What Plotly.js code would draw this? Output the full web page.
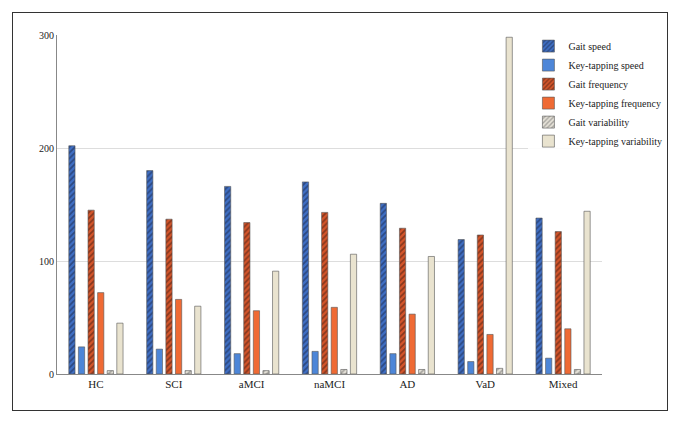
<!DOCTYPE html>
<html><head><meta charset="utf-8">
<script src="https://cdn.plot.ly/plotly-3.0.1.min.js"></script>
<style>body{margin:0;background:#fff}#chart{width:680px;height:421px}
#frame{position:absolute;left:12px;top:12px;width:654px;height:397px;border:1px solid #333;pointer-events:none}</style>
</head><body><div id="chart"></div><div id="frame"></div>
<script>
var groups = ['HC', 'SCI', 'aMCI', 'naMCI', 'AD', 'VaD', 'Mixed'];
var seriesNames = ['Gait speed', 'Key-tapping speed', 'Gait frequency', 'Key-tapping frequency', 'Gait variability', 'Key-tapping variability'];
var gaitSpeed   = [202, 180, 166, 170, 151, 119, 138];
var keySpeed    = [24, 22, 18, 20, 18, 11, 14];
var gaitFreq    = [145, 137, 134, 143, 129, 123, 126];
var keyFreq     = [72, 66, 56, 59, 53, 35, 40];
var gaitVar     = [3, 3, 3, 4, 4, 5, 4];
var keyVar      = [45, 60, 91, 106, 104, 298, 144];

var values = [gaitSpeed, keySpeed, gaitFreq, keyFreq, gaitVar, keyVar];
var fills  = ['#3f6fc4', '#4d86d8', '#d4552a', '#ef6a34', '#e6e2d8', '#e9e3cf'];
var hatch  = ['#1a2440', null, '#3a1a10', null, '#666', null];

var traces = values.map(function (v, i) {
  var m = { color: fills[i], line: { color: '#555', width: 0.6 } };
  if (hatch[i]) m.pattern = { shape: '/', fgcolor: hatch[i], bgcolor: fills[i], size: 4, solidity: 0.45, fillmode: 'overlay' };
  return { x: groups, y: v, name: seriesNames[i], type: 'bar', marker: m };
});

Plotly.newPlot('chart', traces, {
  width: 680, height: 421,
  font: { family: 'Liberation Serif, serif', size: 11, color: '#222' },
  paper_bgcolor: '#fff', plot_bgcolor: '#fff',
  margin: { l: 57, r: 78, t: 35, b: 47 },
  barmode: 'group', bargap: 0.26, bargroupgap: 0.35,
  xaxis: { showgrid: false, showline: true, linecolor: '#888', ticks: '', tickfont: { size: 11 } },
  yaxis: { range: [0, 300], tickvals: [0, 100, 200, 300], gridcolor: '#ddd', showline: true, linecolor: '#888', zeroline: false, tickfont: { size: 10 } },
  legend: { x: 0.865, y: 1.01, xanchor: 'left', yanchor: 'top', bgcolor: 'rgba(255,255,255,0.9)', font: { size: 10 }, tracegroupgap: 0, itemwidth: 30 },
  showlegend: true
}, { displayModeBar: false });
</script></body></html>
